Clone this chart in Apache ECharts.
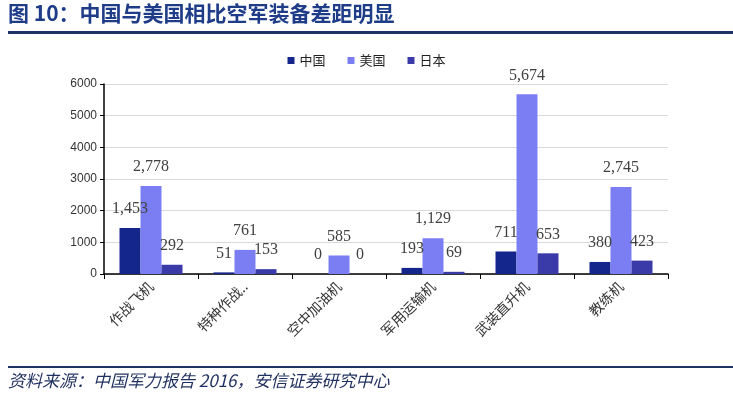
<!DOCTYPE html>
<html><head><meta charset="utf-8">
<script src="https://cdn.jsdelivr.net/npm/echarts@6/dist/echarts.min.js"></script>
<style>html,body{margin:0;padding:0;background:#fff}#c{width:733px;height:393px}</style>
</head><body><div id="c"></div>
<script>
const categories = ['作战飞机', '特种作战飞机', '空中加油机', '军用运输机', '武装直升机', '教练机'];
const chinaValues = [1453, 51, 0, 193, 711, 380];
const usValues = [2778, 761, 585, 1129, 5674, 2745];
const japanValues = [292, 153, 0, 69, 653, 423];
const seriesNames = ['中国', '美国', '日本'];
const titleText = '图 10：中国与美国相比空军装备差距明显';
const sourceText = '资料来源：中国军力报告 2016，安信证券研究中心';

const colors = ['#14258c', '#7b7ef2', '#3a3aa8'];
const chart = echarts.init(document.getElementById('c'));
const mk = (name, data, color) => ({
  name, type: 'bar', data, barWidth: 21, barGap: '0%',
  itemStyle: { color },
  label: { show: true, position: 'top', distance: 11, fontFamily: 'Liberation Serif', fontSize: 16, color: '#404040',
    formatter: p => p.value.toLocaleString('en-US') }
});
chart.setOption({
  animation: false,
  color: colors,
  grid: { left: 104, right: 65, top: 84, bottom: 119 },
  legend: { top: 49, left: 'center', itemWidth: 7, itemHeight: 7, itemGap: 22, icon: 'rect',
    textStyle: { fontSize: 13, color: '#222', fontFamily: 'Noto Sans CJK SC' }, data: seriesNames },
  xAxis: { type: 'category', data: categories,
    axisLine: { lineStyle: { color: '#000', width: 1.5 } },
    axisTick: { show: true, length: 5, lineStyle: { color: '#000' } },
    axisLabel: { rotate: 45, fontSize: 14, color: '#333', fontFamily: 'Noto Sans CJK SC', margin: 10,
      formatter: v => v.length > 5 ? v.slice(0, 4) + '..' : v } },
  yAxis: { type: 'value', min: 0, max: 6000, interval: 1000,
    axisLine: { show: true, lineStyle: { color: '#000', width: 1.5 } },
    axisTick: { show: true, length: 4, lineStyle: { color: '#000' } },
    splitLine: { lineStyle: { color: '#d9d9d9' } },
    axisLabel: { fontSize: 12, color: '#333', fontFamily: 'Liberation Sans', margin: 7, formatter: v => String(v) } },
  series: [mk(seriesNames[0], chinaValues, colors[0]), mk(seriesNames[1], usValues, colors[1]), mk(seriesNames[2], japanValues, colors[2])],
  graphic: [
    { type: 'text', left: 8, top: 3, style: { text: titleText, fontSize: 21, fontWeight: 'bold', fill: '#1f3c88', fontFamily: 'Noto Sans CJK SC' } },
    { type: 'rect', shape: { x: 8, y: 31, width: 725, height: 3 }, style: { fill: '#1f3464' } },
    { type: 'rect', shape: { x: 8, y: 366, width: 725, height: 2 }, style: { fill: '#1f3464' } },
    { type: 'text', left: 8, top: 372, style: { text: sourceText, fontSize: 17, fontStyle: 'italic', fill: '#1f2f5f', fontFamily: 'Noto Sans CJK SC' } }
  ]
});
</script></body></html>
